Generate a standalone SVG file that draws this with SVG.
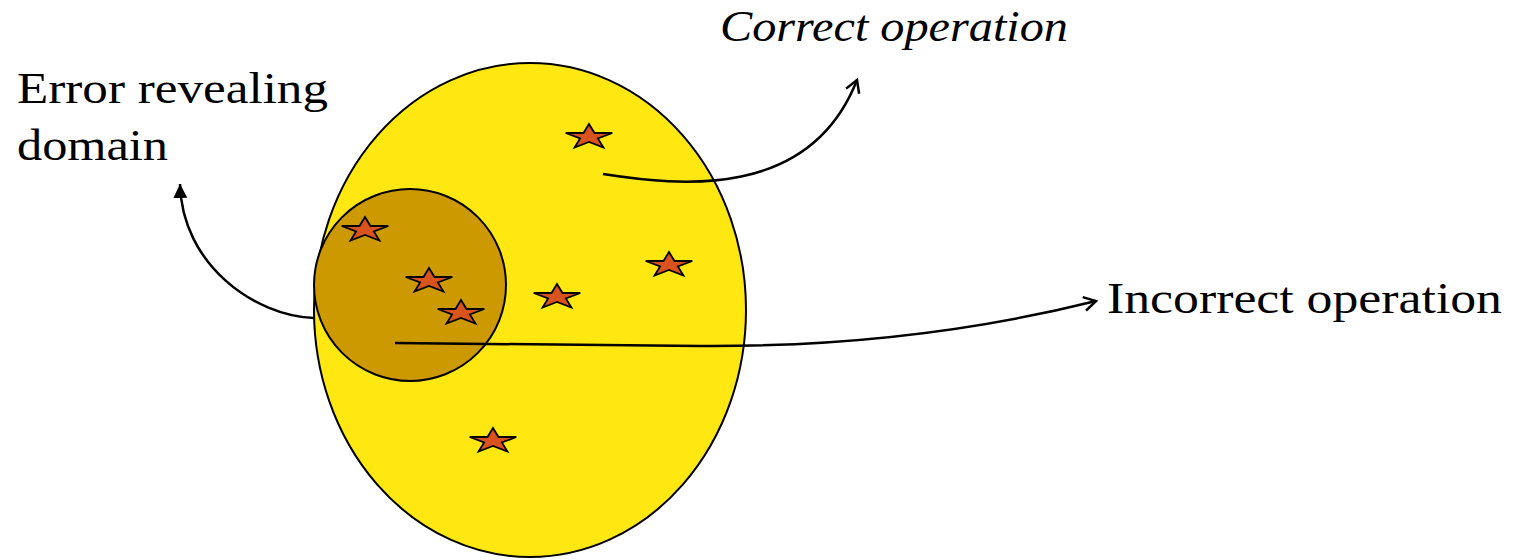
<svg xmlns="http://www.w3.org/2000/svg" width="1514" height="560" viewBox="0 0 1514 560">
<style>
.lbl{font-family:"Liberation Serif","DejaVu Serif",serif;font-size:44px;fill:#000}
.conn{fill:none;stroke:#000;stroke-width:2.5}
.star{fill:#D9531E;stroke:#000;stroke-width:1.8;stroke-linejoin:miter}
</style>
<defs>
<marker id="open" markerWidth="20" markerHeight="20" refX="14" refY="8" orient="auto" markerUnits="userSpaceOnUse">
<path d="M2,1 L14,8 L2,15" fill="none" stroke="#000" stroke-width="2.5"/>
</marker>
<marker id="solid" markerWidth="20" markerHeight="20" refX="14" refY="8" orient="auto" markerUnits="userSpaceOnUse">
<path d="M0,1 L14,8 L0,15 Z" fill="#000"/>
</marker>
<path id="st" d="M0,-13 L5.5,-4 L23.3,-4 L8.9,1.5 L14.4,10.5 L0,5 L-14.4,10.5 L-8.9,1.5 L-23.3,-4 L-5.5,-4 Z"/>
</defs>
<rect width="1514" height="560" fill="#fff"/>
<g id="domain">
<ellipse cx="530" cy="310" rx="216" ry="247" fill="#FFE811" stroke="#000" stroke-width="2"/>
</g>
<g id="error-region">
<circle cx="410" cy="285" r="96" fill="#CC9900" stroke="#000" stroke-width="2"/>
</g>
<g id="stars">
<use href="#st" class="star" x="589" y="137"/>
<use href="#st" class="star" x="365" y="230"/>
<use href="#st" class="star" x="429" y="281"/>
<use href="#st" class="star" x="461" y="313"/>
<use href="#st" class="star" x="557" y="297"/>
<use href="#st" class="star" x="669" y="265"/>
<use href="#st" class="star" x="493" y="441"/>
</g>
<g id="connectors">
<path class="conn" d="M603,174 C680,186 810,200 857,80" marker-end="url(#open)"/>
<path class="conn" d="M314,318 C255,316 182,265 180,184" marker-end="url(#solid)"/>
<path class="conn" d="M395,343 L700,346 C850,347 980,330 1096,301" marker-end="url(#open)"/>
</g>
<g id="label-correct">
<text class="lbl" x="720" y="41" font-style="italic" textLength="348" lengthAdjust="spacingAndGlyphs">Correct operation</text>
</g>
<g id="label-error">
<text class="lbl" x="17" y="103" textLength="311" lengthAdjust="spacingAndGlyphs">Error revealing</text>
<text class="lbl" x="17" y="160" textLength="151" lengthAdjust="spacingAndGlyphs">domain</text>
</g>
<g id="label-incorrect">
<text class="lbl" x="1107" y="313" textLength="395" lengthAdjust="spacingAndGlyphs">Incorrect operation</text>
</g>
</svg>
